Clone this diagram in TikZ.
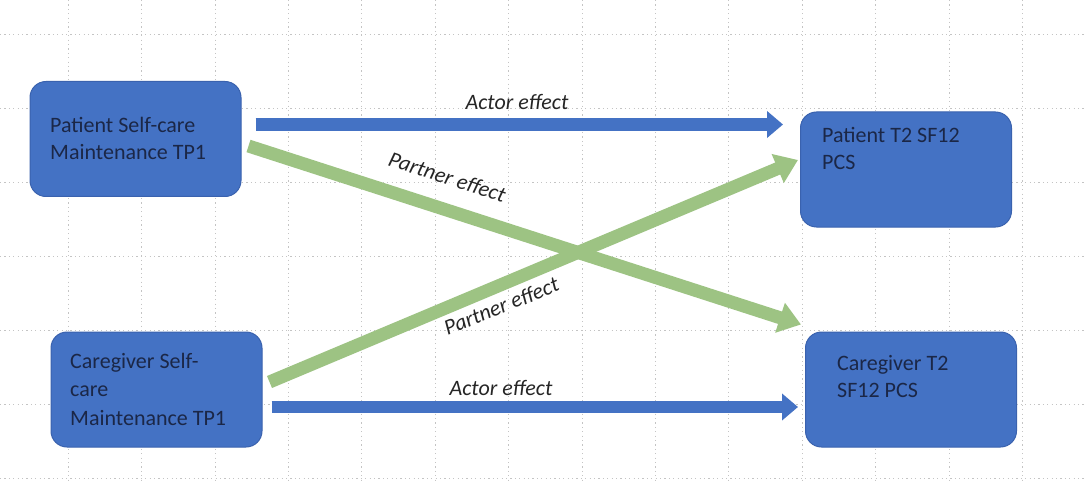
\documentclass[tikz,border=0pt]{standalone}
\usepackage{fontspec}
\setmainfont{Carlito}
\usetikzlibrary{arrows.meta,calc}
\definecolor{boxblue}{HTML}{4472C4}
\definecolor{boxedge}{HTML}{3A62AE}
\definecolor{arrowblue}{HTML}{4472C4}
\definecolor{arrowgreen}{HTML}{9DC383}
\definecolor{gridgray}{HTML}{C4C4C4}
\definecolor{boxtext}{HTML}{1B2747}
\definecolor{labeltext}{HTML}{262626}
\begin{document}
\begin{tikzpicture}[x=1pt,y=-1pt,
  box/.style={draw=boxedge, line width=1pt, fill=boxblue, rounded corners=16pt, inner sep=0pt, minimum width=211pt, minimum height=115pt},
  boxtxt/.style={anchor=base west, inner sep=0pt, text=boxtext},
  lbl/.style={anchor=base, inner sep=0pt, text=labeltext, font=\fontsize{22}{26}\selectfont\itshape},
  actor/.style={draw=arrowblue, line width=12.5pt, -{Triangle[length=16pt,width=26pt]}},
  partner/.style={draw=arrowgreen, line width=13pt, -{Triangle[length=22pt,width=30pt]}},
  gridline/.style={draw=gridgray, line width=0.9pt, dash pattern=on 1.2pt off 3.2pt}]
\useasboundingbox (0,0) rectangle (1085,484);
\fill[white] (0,0) rectangle (1085,484);
% grid
\foreach \k in {0,...,13} {
  \draw[gridline] ({68.3+73.4*\k},0) -- ({68.3+73.4*\k},484);
}
\foreach \k in {0,...,6} {
  \draw[gridline] (0,{34.5+74*\k}) -- (1085,{34.5+74*\k});
}
% boxes
\node[box] (ps) at (135.5,139) {};
\node[box] (cs) at (156.5,389.5) {};
\node[box] (pt) at (906,169.5) {};
\node[box] (ct) at (911,389.5) {};
% box texts
\node[boxtxt, font=\fontsize{22}{27}\selectfont] (pstxt) at (50,133)
  {\parbox[t]{185pt}{\raggedright Patient Self-care\\Maintenance TP1}};
\node[boxtxt, font=\fontsize{22}{28.5}\selectfont] (cstxt) at (70,368)
  {\parbox[t]{185pt}{\raggedright Caregiver Self-\\care\\Maintenance TP1}};
\node[boxtxt, font=\fontsize{22}{27}\selectfont] (pttxt) at (822,143)
  {\parbox[t]{185pt}{\raggedright Patient T2 SF12\\PCS}};
\node[boxtxt, font=\fontsize{22}{27}\selectfont] (cttxt) at (837,370)
  {\parbox[t]{175pt}{\raggedright Caregiver T2\\SF12 PCS}};
% arrows
\draw[partner] ($(ps.east)+(7,7)$) -- ($(ct.north west)+(-4,-7)$);
\draw[partner] ($(cs.east)+(7,-7.5)$) -- ($(pt.west)+(-2,-9.5)$);
\draw[actor] ($(ps.east)+(14,-14.5)$) -- ($(pt.west)+(-17,-45)$);
\draw[actor] ($(cs.east)+(9,17.5)$) -- ($(ct.west)+(-7,17.5)$);
% labels
\node[lbl] (la1) at (517,110) {Actor effect};
\node[lbl] (la2) at (501,395) {Actor effect};
\node[lbl, rotate=-18] (lp1) at (445,184) {Partner effect};
\node[lbl, rotate=22] (lp2) at (504,313) {Partner effect};
\end{tikzpicture}
\end{document}
